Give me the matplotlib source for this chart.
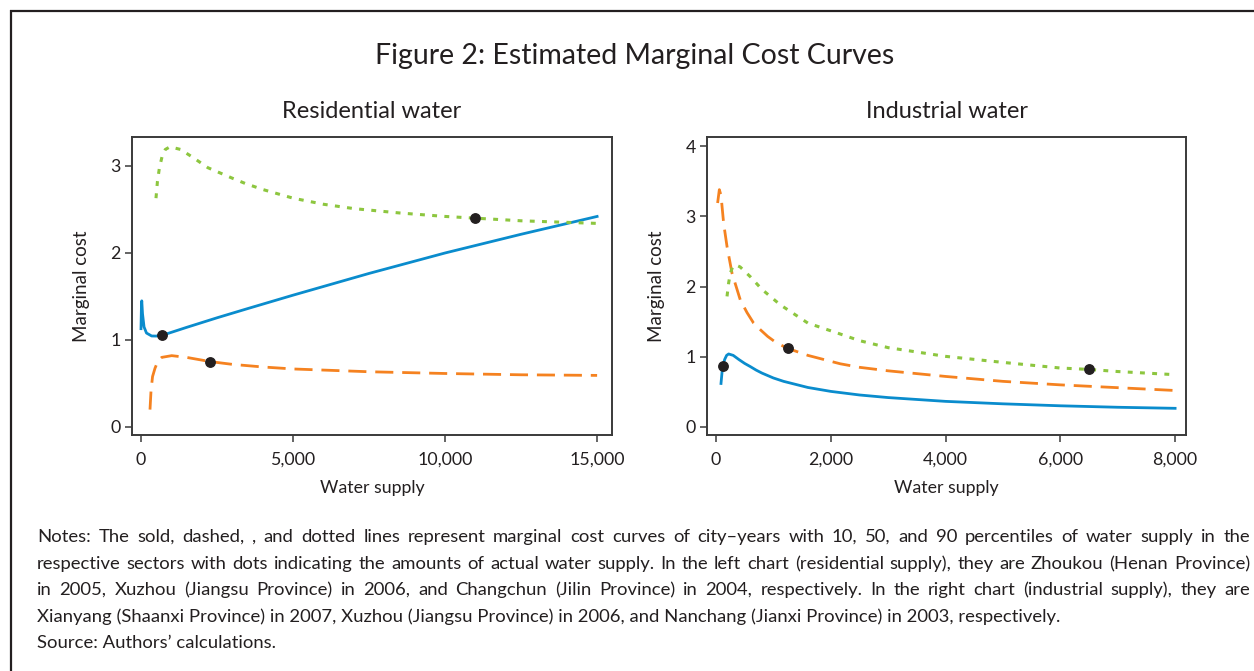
import matplotlib
matplotlib.use("Agg")
import matplotlib.pyplot as plt
from matplotlib.lines import Line2D

plt.rcParams['font.family'] = ['Lato', 'DejaVu Sans']

# ---------------- data ----------------
res_blue_x = [0, 15, 25, 50, 100, 180, 350, 500, 700, 1500, 2500, 3500, 5000, 7500, 10000, 12500, 15000]
res_blue_y = [1.13, 1.40, 1.45, 1.30, 1.15, 1.08, 1.046, 1.045, 1.054, 1.145, 1.255, 1.36, 1.515, 1.765, 2.00, 2.215, 2.42]
res_orange_x = [296, 330, 380, 460, 560, 680, 1010, 1500, 2270, 3000, 4000, 5000, 7500, 10000, 12500, 15000]
res_orange_y = [0.20, 0.42, 0.58, 0.675, 0.76, 0.80, 0.82, 0.80, 0.752, 0.72, 0.69, 0.667, 0.635, 0.615, 0.60, 0.593]
res_green_x = [493, 540, 602, 700, 800, 954, 1300, 1700, 2200, 3000, 3420, 4000, 5000, 6000, 7000, 8500, 10000, 11000, 12500, 15000]
res_green_y = [2.63, 2.82, 2.97, 3.12, 3.19, 3.22, 3.19, 3.10, 2.98, 2.86, 2.80, 2.73, 2.63, 2.56, 2.51, 2.46, 2.42, 2.40, 2.37, 2.34]
res_dots_x = [700, 2270, 11000]
res_dots_y = [1.054, 0.752, 2.40]

ind_blue_x = [87, 105, 122, 150, 185, 220, 300, 400, 500, 598, 700, 800, 1000, 1178, 1600, 2000, 2500, 3000, 4000, 5000, 6000, 7000, 8000]
ind_blue_y = [0.62, 0.78, 0.87, 0.96, 1.02, 1.04, 1.02, 0.96, 0.905, 0.86, 0.81, 0.768, 0.698, 0.65, 0.563, 0.507, 0.456, 0.419, 0.365, 0.33, 0.302, 0.281, 0.266]
ind_orange_x = [28, 58, 87, 133, 192, 279, 423, 540, 655, 780, 900, 1050, 1248, 1600, 2166, 2500, 3000, 4000, 5000, 6000, 7000, 8000]
ind_orange_y = [3.19, 3.38, 3.30, 2.90, 2.57, 2.19, 1.81, 1.63, 1.48, 1.38, 1.29, 1.20, 1.12, 1.02, 0.90, 0.85, 0.80, 0.72, 0.65, 0.60, 0.56, 0.52]
ind_green_x = [192, 220, 249, 290, 336, 420, 598, 800, 1120, 1600, 2108, 2500, 3000, 4000, 5000, 6000, 6500, 7000, 8000]
ind_green_y = [1.86, 2.05, 2.19, 2.28, 2.31, 2.28, 2.14, 1.96, 1.74, 1.48, 1.34, 1.23, 1.13, 1.006, 0.92, 0.84, 0.82, 0.79, 0.745]
ind_dots_x = [122, 1248, 6500]
ind_dots_y = [0.87, 1.12, 0.82]

res_xticks = [0, 5000, 10000, 15000]
ind_xticks = [0, 2000, 4000, 6000, 8000]
res_yticks = [0, 1, 2, 3]
ind_yticks = [0, 1, 2, 3, 4]

title = "Figure 2: Estimated Marginal Cost Curves"
subtitles = ["Residential water", "Industrial water"]
xlabel = "Water supply"
ylabel = "Marginal cost"
notes = [
    "Notes: The sold, dashed, , and dotted lines represent marginal cost curves of city\u2013years with 10, 50, and 90 percentiles of water supply in the",
    "respective sectors with dots indicating the amounts of actual water supply. In the left chart (residential supply), they are Zhoukou (Henan Province)",
    "in 2005, Xuzhou (Jiangsu Province) in 2006, and Changchun (Jilin Province) in 2004, respectively. In the right chart (industrial supply), they are",
    "Xianyang (Shaanxi Province) in 2007, Xuzhou (Jiangsu Province) in 2006, and Nanchang (Jianxi Province) in 2003, respectively.",
    "Source: Authors\u2019 calculations.",
]

BLUE = "#0a8ccd"
ORANGE = "#f58220"
GREEN = "#8dc63f"
DARK = "#231f20"
SPINE = "#3a3a3a"

W, H = 1254, 671
fig = plt.figure(figsize=(W / 100, H / 100), dpi=100)
fig.patch.set_facecolor("white")

def fx(px):
    return px / W

def fy(py):
    return 1 - py / H

# border (top and left)
fig.add_artist(Line2D([fx(10), fx(1254)], [fy(11), fy(11)], color=DARK, lw=1.6, solid_capstyle="butt"))
fig.add_artist(Line2D([fx(11), fx(11)], [fy(10), fy(671)], color=DARK, lw=1.6, solid_capstyle="butt"))

ax1 = fig.add_axes([fx(132), fy(435), fx(612) - fx(132), fy(137) - fy(435)])
ax2 = fig.add_axes([fx(707), fy(435), fx(1186) - fx(707), fy(137) - fy(435)])

def style(ax, xticks, yticks, xlim, ylim, sub):
    ax.set_xlim(*xlim)
    ax.set_ylim(*ylim)
    ax.set_xticks(xticks)
    ax.set_xticklabels([f"{t:,}" for t in xticks])
    ax.set_yticks(yticks)
    ax.set_yticklabels([str(t) for t in yticks])
    for s in ax.spines.values():
        s.set_color(SPINE)
        s.set_linewidth(1.4)
    ax.tick_params(direction="out", length=5, width=1.1, color=SPINE,
                   labelsize=12.8, labelcolor="#231f20")
    ax.tick_params(axis="x", pad=7)
    ax.tick_params(axis="y", pad=3)
    ax.set_xlabel(xlabel, fontsize=12.8, color="#231f20", labelpad=9)
    ax.set_ylabel(ylabel, fontsize=13.5, color="#231f20", labelpad=15)
    ax.set_title(sub, fontsize=17, color="#231f20", pad=14)

style(ax1, res_xticks, res_yticks, (-296, 15490), (-0.092, 3.333), subtitles[0])
style(ax2, ind_xticks, ind_yticks, (-157, 8190), (-0.114, 4.13), subtitles[1])

for ax, bx, by, ox, oy, gx, gy, dx, dy in [
    (ax1, res_blue_x, res_blue_y, res_orange_x, res_orange_y, res_green_x, res_green_y, res_dots_x, res_dots_y),
    (ax2, ind_blue_x, ind_blue_y, ind_orange_x, ind_orange_y, ind_green_x, ind_green_y, ind_dots_x, ind_dots_y),
]:
    ax.plot(bx, by, color=BLUE, lw=2.0, solid_joinstyle="round")
    ax.plot(ox, oy, color=ORANGE, lw=2.0, dashes=(6.5, 3.2))
    ax.plot(gx, gy, color=GREEN, lw=2.2, dashes=(1.6, 2.4))
    ax.plot(dx, dy, "o", color=DARK, ms=6.8, zorder=5)

fig.text(fx(635), fy(56), title, ha="center", va="center", fontsize=20.5, color="#231f20")

# notes, with justification of the first three lines
canvas = fig.canvas
renderer = canvas.get_renderer()
left_px, right_px = 37, 1250
line_y = [537, 564, 590, 617, 643]
fs = 13.3
for i, (line, yy) in enumerate(zip(notes, line_y)):
    if i < 3:
        words = line.split(" ")
        arts = []
        widths = []
        for w_ in words:
            t = fig.text(0, fy(yy), w_, ha="left", va="center", fontsize=fs, color="#231f20")
            bb = t.get_window_extent(renderer=renderer)
            arts.append(t)
            widths.append(bb.width)
        total = sum(widths)
        gap = (right_px - left_px - total) / (len(words) - 1)
        xcur = left_px
        for t, wd in zip(arts, widths):
            t.set_x(fx(xcur))
            xcur += wd + gap
    else:
        fig.text(fx(left_px), fy(yy), line, ha="left", va="center", fontsize=fs, color="#231f20")

fig.savefig("out.png", dpi=100)
